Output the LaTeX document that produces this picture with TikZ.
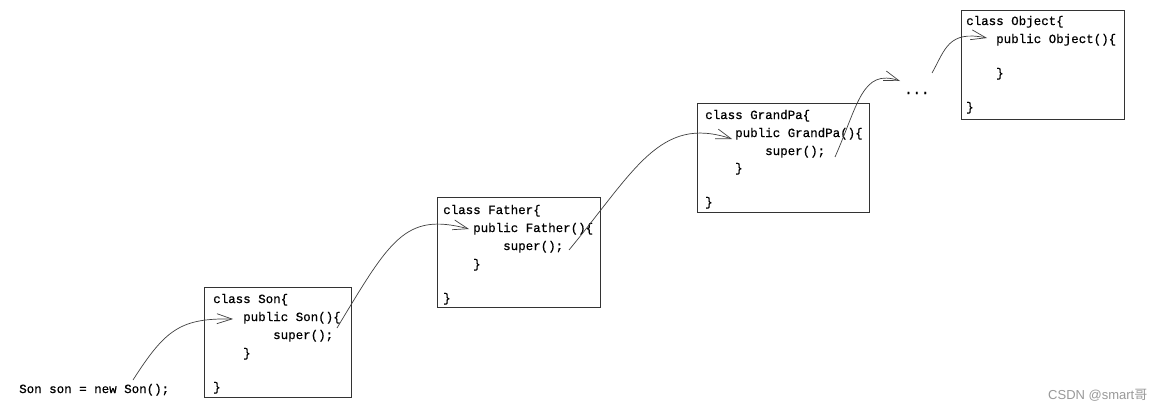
\documentclass[tikz,border=0pt]{standalone}
\usepackage{fontspec}
\setmonofont[FakeBold=0.6]{Liberation Mono}
\newfontfamily\wmfont{Liberation Sans}
\newfontfamily\cjkfont{Noto Sans CJK SC}
\usetikzlibrary{arrows.meta}
\begin{document}
\begin{tikzpicture}[x=1pt,y=-1pt,
  box/.style={draw=black!80,line width=0.9pt,inner sep=0pt,minimum height=109pt},
  code/.style={anchor=base west,inner sep=0pt,font=\fontsize{12.5}{14}\ttfamily},
  callarrow/.style={draw=black!75,line width=0.7pt,-{Straight Barb[length=15pt,width=10pt,line width=0.7pt]}}]
\useasboundingbox[fill=white] (0,0) rectangle (1162,410);
% boxes
\node[box,minimum width=147pt,minimum height=110pt] (sonbox) at (277.5,342) {};
\node[box,minimum width=163pt,minimum height=110pt] (fatherbox) at (518.5,252) {};
\node[box,minimum width=172pt] (grandpabox) at (783,157.5) {};
\node[box,minimum width=163pt] (objectbox) at (1042.5,64.5) {};
% Son
\node[code] (s1) at (213,303) {class Son\{};
\node[code] (s2) at (243,321) {public Son()\{};
\node[code] (s3) at (273,339) {super();};
\node[code] (s4) at (243,357) {\}};
\node[code] (s5) at (213,391) {\}};
% Father
\node[code] (f1) at (443,214) {class Father\{};
\node[code] (f2) at (473,232) {public Father()\{};
\node[code] (f3) at (503,250) {super();};
\node[code] (f4) at (473,268) {\}};
\node[code] (f5) at (443,302) {\}};
% GrandPa
\node[code] (g1) at (705,119) {class GrandPa\{};
\node[code] (g2) at (735,137) {public GrandPa()\{};
\node[code] (g3) at (765,155) {super();};
\node[code] (g4) at (735,172) {\}};
\node[code] (g5) at (705,206) {\}};
% Object
\node[code] (o1) at (966,25) {class Object\{};
\node[code] (o2) at (996,43) {public Object()\{};
\node[code] (o4) at (996,77) {\}};
\node[code] (o5) at (966,111) {\}};
% caller and ellipsis
\node[code] (caller) at (19,393) {Son son = new Son();};
\node[code,font=\fontsize{14}{16}\ttfamily] (dots) at (904,94) {...};
% watermark
\node[anchor=base west,inner sep=0pt,text=black!40,font=\fontsize{13}{15}\wmfont] (wm) at (1048,399) {CSDN @smart{\cjkfont 哥}};
% arrow end points
\coordinate (a1s) at (133,380);
\coordinate (a1e) at (233,319);
\coordinate (a2s) at (337,328);
\coordinate (a2e) at (469,229);
\coordinate (a3s) at (569,250);
\coordinate (a3e) at (732,139);
\coordinate (a4s) at (835,157);
\coordinate (a4e) at (900,81);
\coordinate (a5s) at (932,73);
\coordinate (a5e) at (987,38);
% arrows
\draw[callarrow] (a1s) .. controls (165,330) and (180,318) .. (a1e);
\draw[callarrow] (a2s) .. controls (390,240) and (405,212) .. (a2e);
\draw[callarrow] (a3s) .. controls (635,170) and (660,115) .. (a3e);
\draw[callarrow] (a4s) .. controls (858,105) and (862,68) .. (a4e);
\draw[callarrow] (a5s) .. controls (945,50) and (948,30) .. (a5e);
\end{tikzpicture}
\end{document}
